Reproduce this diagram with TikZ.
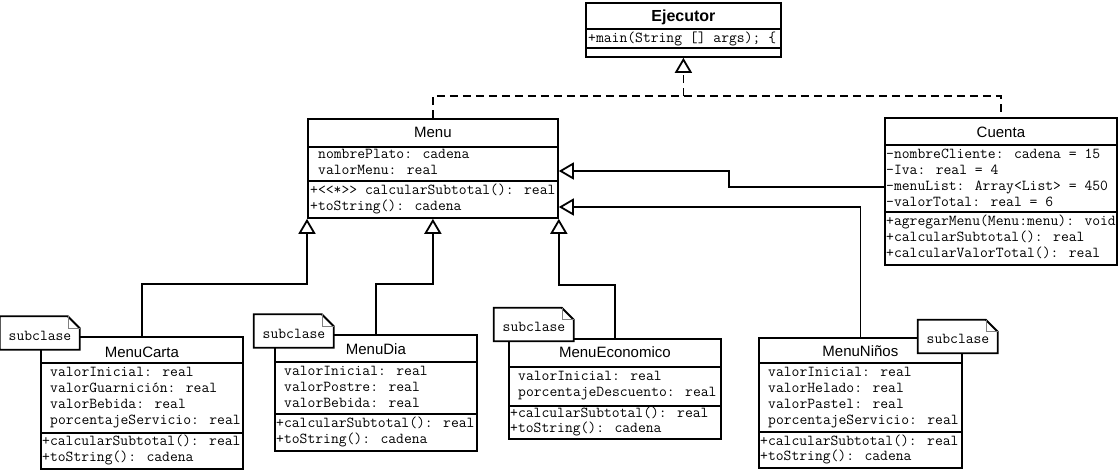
\documentclass[tikz,border=0pt]{standalone}
\usepackage{fontspec}
\setsansfont{Liberation Sans}
\usetikzlibrary{arrows.meta, positioning}
\tikzstyle{clase}=[rectangle, draw, line width=1.8pt, anchor=north west, inner sep=0pt]
\tikzstyle{titulo}=[inner sep=0pt, font=\sffamily\fontsize{15}{18}\selectfont, text height=11pt, text depth=0pt]
\tikzstyle{miembro}=[anchor=west, inner sep=0pt, font=\ttfamily\fontsize{15.2}{16}\selectfont, text height=9pt, text depth=3pt]
\tikzstyle{separa}=[line width=1.8pt]
\tikzstyle{hereda}=[line width=1.8pt, -{Triangle[open, width=17pt, length=15pt]}]
\tikzstyle{realiza}=[hereda, dash pattern=on 8pt off 5pt]
\tikzstyle{nota}=[rectangle, fill=white, inner sep=0pt, minimum width=80pt, minimum height=33pt, font=\ttfamily\fontsize{15.2}{16}\selectfont, text height=16pt, text depth=2pt]
\tikzstyle{notaborde}=[line width=1.8pt]
\tikzstyle{pliegue}=[line width=0.8pt, gray]

\begin{document}
\begin{tikzpicture}[x=1pt, y=-1pt]
  \useasboundingbox (0,0) rectangle (1118,469);

  % interfaz
  \node[clase, minimum width=195pt, minimum height=54pt] (ejecutor) at (585,2) {};
  \node[titulo, font=\sffamily\bfseries\fontsize{16}{18}\selectfont] (ejecutor-t) at (ejecutor.north |- 0,15.5) {Ejecutor};
  \begin{scope}
    \clip (ejecutor.north west) rectangle (ejecutor.south east);
    \draw[separa] (ejecutor.west |- 0,29) -- (ejecutor.east |- 0,29);
    \draw[separa] (ejecutor.west |- 0,48) -- (ejecutor.east |- 0,48);
    \node[miembro] (ejecutor-m1) at (588,39) {+main(String [] args); \{};
  \end{scope}

  % clase padre
  \node[clase, minimum width=250pt, minimum height=99pt] (menu) at (307,118) {};
  \node[titulo] (menu-t) at (menu.north |- 0,132) {Menu};
  \begin{scope}
    \clip (menu.north west) rectangle (menu.south east);
    \draw[separa] (menu.west |- 0,147) -- (menu.east |- 0,147);
    \draw[separa] (menu.west |- 0,181) -- (menu.east |- 0,181);
    \node[miembro] (menu-a1) at (318,155) {nombrePlato: cadena};
    \node[miembro] (menu-a2) at (318,171) {valorMenu: real};
    \node[miembro] (menu-m1) at (310,191) {+<{}<*>{}> calcularSubtotal(): real};
    \node[miembro] (menu-m2) at (310,207) {+toString(): cadena};
  \end{scope}

  \node[clase, minimum width=232pt, minimum height=147pt] (cuenta) at (884,117) {};
  \node[titulo] (cuenta-t) at (cuenta.north |- 0,131.5) {Cuenta};
  \begin{scope}
    \clip (cuenta.north west) rectangle (cuenta.south east);
    \draw[separa] (cuenta.west |- 0,145) -- (cuenta.east |- 0,145);
    \draw[separa] (cuenta.west |- 0,212) -- (cuenta.east |- 0,212);
    \node[miembro] (cuenta-a1) at (886,155) {-nombreCliente: cadena = 15};
    \node[miembro] (cuenta-a2) at (886,171) {-Iva: real = 4};
    \node[miembro] (cuenta-a3) at (886,187) {-menuList: Array<List> = 450};
    \node[miembro] (cuenta-a4) at (886,203) {-valorTotal: real = 6};
    \node[miembro] (cuenta-m1) at (886,222) {+agregarMenu(Menu:menu): void};
    \node[miembro] (cuenta-m2) at (886,238) {+calcularSubtotal(): real};
    \node[miembro] (cuenta-m3) at (886,254) {+calcularValorTotal(): real};
  \end{scope}

  % subclases
  \node[clase, minimum width=202pt, minimum height=132pt] (carta) at (40,336) {};
  \node[titulo] (carta-t) at (carta.north |- 0,351.5) {MenuCarta};
  \begin{scope}
    \clip (carta.north west) rectangle (carta.south east);
    \draw[separa] (carta.west |- 0,363) -- (carta.east |- 0,363);
    \draw[separa] (carta.west |- 0,433) -- (carta.east |- 0,433);
    \node[miembro] (carta-a1) at (50,373) {valorInicial: real};
    \node[miembro] (carta-a2) at (50,389) {valorGuarnición: real};
    \node[miembro] (carta-a3) at (50,405) {valorBebida: real};
    \node[miembro] (carta-a4) at (50,421) {porcentajeServicio: real};
    \node[miembro] (carta-m1) at (42,442) {+calcularSubtotal(): real};
    \node[miembro] (carta-m2) at (42,458) {+toString(): cadena};
  \end{scope}

  \node[clase, minimum width=202pt, minimum height=116pt] (dia) at (274,334) {};
  \node[titulo] (dia-t) at (dia.north |- 0,348.5) {MenuDia};
  \begin{scope}
    \clip (dia.north west) rectangle (dia.south east);
    \draw[separa] (dia.west |- 0,362) -- (dia.east |- 0,362);
    \draw[separa] (dia.west |- 0,414) -- (dia.east |- 0,414);
    \node[miembro] (dia-a1) at (284,372) {valorInicial: real};
    \node[miembro] (dia-a2) at (284,388) {valorPostre: real};
    \node[miembro] (dia-a3) at (284,404) {valorBebida: real};
    \node[miembro] (dia-m1) at (276,424) {+calcularSubtotal(): real};
    \node[miembro] (dia-m2) at (276,440) {+toString(): cadena};
  \end{scope}

  \node[clase, minimum width=212pt, minimum height=100pt] (eco) at (508,338) {};
  \node[titulo] (eco-t) at (eco.north |- 0,352) {MenuEconomico};
  \begin{scope}
    \clip (eco.north west) rectangle (eco.south east);
    \draw[separa] (eco.west |- 0,367) -- (eco.east |- 0,367);
    \draw[separa] (eco.west |- 0,406) -- (eco.east |- 0,406);
    \node[miembro] (eco-a1) at (518,377) {valorInicial: real};
    \node[miembro] (eco-a2) at (518,393) {porcentajeDescuento: real};
    \node[miembro] (eco-m1) at (510,414) {+calcularSubtotal(): real};
    \node[miembro] (eco-m2) at (510,429) {+toString(): cadena};
  \end{scope}

  \node[clase, minimum width=203pt, minimum height=130pt] (ninos) at (758,337) {};
  \node[titulo] (ninos-t) at (ninos.north |- 0,351) {MenuNiños};
  \begin{scope}
    \clip (ninos.north west) rectangle (ninos.south east);
    \draw[separa] (ninos.west |- 0,363) -- (ninos.east |- 0,363);
    \draw[separa] (ninos.west |- 0,432) -- (ninos.east |- 0,432);
    \node[miembro] (ninos-a1) at (768,373) {valorInicial: real};
    \node[miembro] (ninos-a2) at (768,389) {valorHelado: real};
    \node[miembro] (ninos-a3) at (768,405) {valorPastel: real};
    \node[miembro] (ninos-a4) at (768,421) {porcentajeServicio: real};
    \node[miembro] (ninos-m1) at (760,442) {+calcularSubtotal(): real};
    \node[miembro] (ninos-m2) at (760,457) {+toString(): cadena};
  \end{scope}

  % relaciones
  \coordinate (junta) at (ejecutor.south |- 0,96);
  \draw[realiza, -] (menu.north) |- (junta) -| (cuenta.north);
  \draw[realiza] (junta) -- (ejecutor.south);
  \draw[hereda] (cuenta.west |- cuenta-a3) -- ++(-155,0) |- (menu.east |- menu-a2);
  \draw[hereda] (ninos.north) |- (menu.east |- menu-m2);
  \draw[hereda] (carta.north) -- ++(0,-52) -| (menu.south west);
  \draw[hereda] (dia.north) -- ++(0,-50) -| (menu.south);
  \draw[hereda] (eco.north) -- ++(0,-53) -| (menu.south east);

  % notas
  \node[nota] (nota-carta) at (40,333) {subclase};
  \draw[notaborde] (nota-carta.south west) -- (nota-carta.north west) -- ++(68,0) -- ++(12,12) |- (nota-carta.south west) -- cycle;
  \draw[pliegue] (nota-carta.north east) ++(-12,0) |- ++(12,12);
  \node[nota] (nota-dia) at (294,331) {subclase};
  \draw[notaborde] (nota-dia.south west) -- (nota-dia.north west) -- ++(68,0) -- ++(12,12) |- (nota-dia.south west) -- cycle;
  \draw[pliegue] (nota-dia.north east) ++(-12,0) |- ++(12,12);
  \node[nota] (nota-eco) at (534,324.5) {subclase};
  \draw[notaborde] (nota-eco.south west) -- (nota-eco.north west) -- ++(68,0) -- ++(12,12) |- (nota-eco.south west) -- cycle;
  \draw[pliegue] (nota-eco.north east) ++(-12,0) |- ++(12,12);
  \node[nota] (nota-ninos) at (958,336.5) {subclase};
  \draw[notaborde] (nota-ninos.south west) -- (nota-ninos.north west) -- ++(68,0) -- ++(12,12) |- (nota-ninos.south west) -- cycle;
  \draw[pliegue] (nota-ninos.north east) ++(-12,0) |- ++(12,12);
\end{tikzpicture}
\end{document}
